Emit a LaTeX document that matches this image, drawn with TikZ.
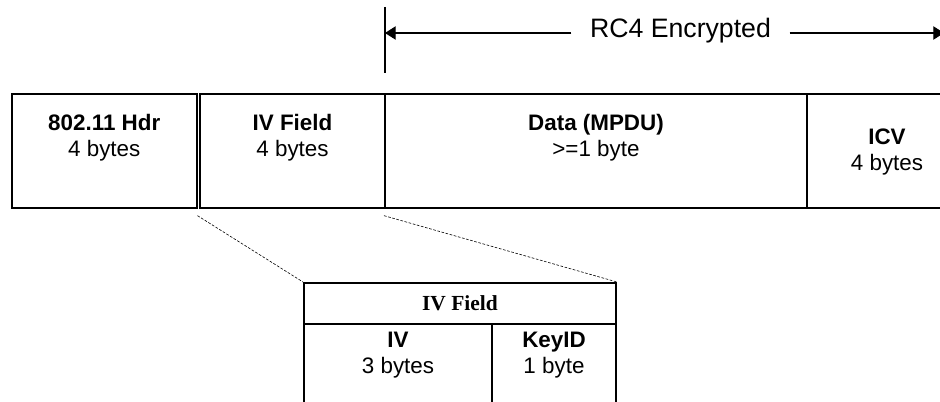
\documentclass[tikz,border=0pt]{standalone}
\usepackage{fontspec}
\setmainfont{Liberation Sans}
\newfontfamily\headserif{Liberation Serif}
\usetikzlibrary{arrows.meta,positioning}

\def\px{0.75pt}

\begin{document}
\begin{tikzpicture}[x=0.75pt, y=-0.75pt,
    field/.style={draw, line width=1.5pt, inner sep=0pt},
    fieldtext/.style={anchor=north, inner sep=0pt, align=center,
        font=\fontsize{16.8}{19.5}\selectfont},
    zoomline/.style={line width=0.45pt, dash pattern=on 2pt off 1.2pt},
    span/.style={line width=0.8pt, -{Triangle[length=8pt,width=10pt]}}]

    % Canvas
    \useasboundingbox (0,0) rectangle (940,402);
    \clip (0,0) rectangle (940,402);

    % Frame fields
    \node[field, minimum width=184.5*\px, minimum height=114*\px] (hdr) at (104.25,151) {};
    \node[field, minimum width=185*\px, minimum height=114*\px] (ivf) at (292.5,151) {};
    \node[field, minimum width=422*\px, minimum height=114*\px] (data) at (596,151) {};
    \node[field, minimum width=160*\px, minimum height=114*\px] (icv) at (887,151) {};

    % Field labels
    \node[fieldtext, below=15.75pt of hdr.north] (hdrtxt) {\textbf{802.11 Hdr}\\4 bytes};
    \node[fieldtext, below=15.75pt of ivf.north] (ivftxt) {\textbf{IV Field}\\4 bytes};
    \node[fieldtext, below=15.75pt of data.north] (datatxt) {\textbf{Data (MPDU)}\\>=1 byte};
    \node[fieldtext, below=27pt of icv.north] (icvtxt) {\textbf{ICV}\\4 bytes};

    % Encrypted span
    \coordinate (enctop) at (385,7);
    \coordinate (encbot) at (385,73);
    \coordinate (encl) at (385,33);
    \coordinate (encr) at (944,33);
    \draw[line width=1pt] (enctop) -- (encbot);
    \node[inner xsep=13.9pt, font=\fontsize{20}{24}\selectfont] (rc4) at (680.5,31) {RC4 Encrypted};
    \draw[span] (encl -| rc4.west) -- (encl);
    \draw[span] (encl -| rc4.east) -- (encr);

    % IV field breakdown
    \node[field, minimum width=312*\px, minimum height=41*\px, font=\headserif\bfseries\fontsize{16.1}{19}\selectfont]
        (ivhead) at (460,303.5) {IV Field};
    \node[field, minimum width=188*\px, minimum height=96*\px] (ivpart) at (398,372) {};
    \node[field, minimum width=124*\px, minimum height=96*\px] (keyid) at (554,372) {};
    \node[fieldtext, below=6.75pt of ivpart.north] (ivparttxt) {\textbf{IV}\\3 bytes};
    \node[fieldtext, below=6.75pt of keyid.north] (keyidtxt) {\textbf{KeyID}\\1 byte};

    % Zoom lines
    \draw[zoomline] ([yshift=-5pt]hdr.south east) -- (ivhead.north west);
    \draw[zoomline] ([yshift=-5pt]data.south west) -- (ivhead.north east);
\end{tikzpicture}
\end{document}
